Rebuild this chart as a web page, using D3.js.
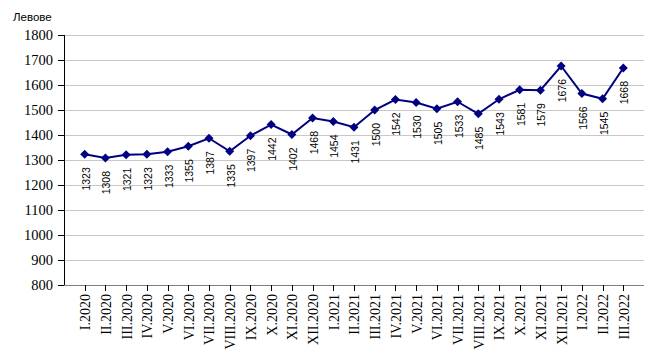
<!DOCTYPE html>
<html><head><meta charset="utf-8">
<script src="https://cdn.jsdelivr.net/npm/d3@7"></script>
<style>body{margin:0;background:#fff}svg{display:block}</style>
</head><body>
<svg id="c" width="656" height="355"></svg>
<script>
const categories = ["I.2020","II.2020","III.2020","IV.2020","V.2020","VI.2020","VII.2020","VIII.2020","IX.2020","X.2020","XI.2020","XII.2020",
 "I.2021","II.2021","III.2021","IV.2021","V.2021","VI.2021","VII.2021","VIII.2021","IX.2021","X.2021","XI.2021","XII.2021",
 "I.2022","II.2022","III.2022"];
const values = [1323,1308,1321,1323,1333,1355,1387,1335,1397,1442,1402,1468,1454,1431,1500,1542,1530,1505,1533,1485,1543,1581,1579,1676,1566,1545,1668];
const yTicks = [800,900,1000,1100,1200,1300,1400,1500,1600,1700,1800];
const yUnit = "Левове";

const svg = d3.select("#c");
const L = 64, R = 644, T = 35, B = 285;
const x = d3.scalePoint().domain(categories).range([L, R]).padding(1);
const y = d3.scaleLinear().domain([800, 1800]).range([B, T]);

// grid
svg.append("g").selectAll("line").data(yTicks.slice(1)).join("line")
  .attr("x1", L).attr("x2", R).attr("y1", d => y(d)).attr("y2", d => y(d))
  .attr("stroke", "#c8c8c8").attr("stroke-width", 1).attr("shape-rendering","crispEdges");

// y axis
const ya = svg.append("g").attr("transform", `translate(${L},0)`)
  .call(d3.axisLeft(y).tickValues(yTicks).tickSize(6).tickPadding(5).tickFormat(d3.format("d")));
ya.select(".domain").attr("stroke", "#000").attr("shape-rendering","crispEdges");
ya.selectAll(".tick line").attr("stroke", "#000").attr("shape-rendering","crispEdges");
ya.selectAll("text").attr("font-family", "'Liberation Serif', 'Times New Roman', serif").attr("font-size", "14.5px").attr("fill", "#000");

// x axis
const xa = svg.append("g").attr("transform", `translate(0,${B})`)
  .call(d3.axisBottom(x).tickSize(6).tickSizeOuter(0).tickPadding(0));
xa.select(".domain").attr("stroke", "#808080").attr("d", `M${L},0.5H${R}`).attr("shape-rendering","crispEdges");
xa.selectAll(".tick line").attr("stroke", "#000").attr("shape-rendering","crispEdges");
xa.selectAll("text")
  .attr("font-family", "'Liberation Serif', 'Times New Roman', serif").attr("font-size", "14px").attr("fill", "#000")
  .attr("transform", "rotate(-90)").attr("text-anchor", "end").attr("x", -9).attr("y", 0).attr("dy", "0.35em");

// unit label
svg.append("text").attr("x", 13).attr("y", 21).text(yUnit)
  .attr("font-family", "'Liberation Sans', Arial, sans-serif").attr("font-size", "11.5px").attr("fill", "#000");

// line
svg.append("path").datum(values)
  .attr("d", d3.line().x((d, i) => x(categories[i])).y(d => y(d)))
  .attr("fill", "none").attr("stroke", "#000080").attr("stroke-width", 2);

// markers
svg.append("g").selectAll("path").data(values).join("path")
  .attr("transform", (d, i) => `translate(${x(categories[i])},${y(d)})`)
  .attr("d", "M0,-4.5L4.5,0L0,4.5L-4.5,0Z").attr("fill", "#000080");

// data labels
svg.append("g").selectAll("text").data(values).join("text")
  .attr("transform", (d, i) => `translate(${x(categories[i]) + 5},${y(d) + 13}) rotate(-90)`)
  .attr("text-anchor", "end").text(d => d)
  .attr("font-family", "'Liberation Sans', Arial, sans-serif").attr("font-size", "10.5px").attr("fill", "#000");
</script>
</body></html>
